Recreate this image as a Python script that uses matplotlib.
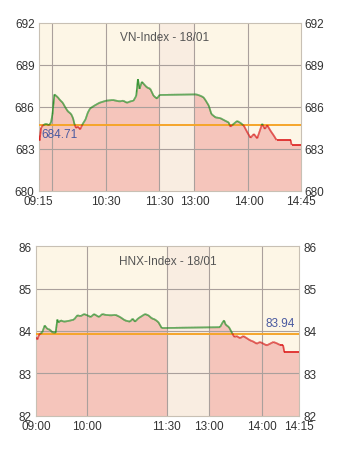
import numpy as np
import matplotlib
matplotlib.use("Agg")
import matplotlib.pyplot as plt
from matplotlib.collections import LineCollection

plt.rcParams['font.family'] = ['Liberation Sans', 'DejaVu Sans']

# ---------------- data ----------------
# VN-Index: x = chart minutes (lunch break compressed), value
VN_T = [0, 1, 2.6, 4.9, 8.3, 11.7, 13.9, 15.6, 17.7, 21.5, 24, 27.2, 29.8, 32.8, 36.6,
        38.8, 40.3, 42.2, 44.5, 46.8, 49.8, 52.8, 55.5, 58.1, 63, 68.6, 76.2, 83.8, 91.3,
        95.5, 99.7, 103.4, 107.1, 110.2, 112.1, 113.9, 116.6, 119.3, 122.3, 126, 129.8,
        133.6, 136.6, 178.1, 182.7, 186, 188.3, 192.1, 195.1, 199.7, 205.3, 211.2, 214.5,
        216.6, 220.4, 224.2, 228, 231.8, 235.6, 239.3, 243.1, 246.9, 249.8, 252.5, 255.5,
        258.2, 261.9, 265.7, 268.7, 284.6, 285.7, 296]
VN_V = [683.95, 683.6, 684.5, 684.7, 684.8, 684.7, 684.9, 685.5, 686.9, 686.7, 686.5,
        686.3, 686.0, 685.7, 685.5, 685.2, 684.8, 684.5, 684.6, 684.4, 684.8, 685.1, 685.6,
        685.9, 686.1, 686.3, 686.45, 686.5, 686.4, 686.45, 686.3, 686.4, 686.45, 686.8,
        688.0, 687.3, 687.8, 687.6, 687.4, 687.3, 686.8, 686.6, 686.86, 686.9, 686.8,
        686.7, 686.5, 686.1, 685.5, 685.26, 685.2, 685.0, 684.9, 684.6, 684.8, 685.0,
        684.86, 684.66, 684.2, 683.8, 684.07, 683.76, 684.3, 684.8, 684.43, 684.7, 684.3,
        683.95, 683.64, 683.64, 683.3, 683.3]
VN_REF = 684.71
VN_TITLE = "VN-Index - 18/01"
VN_YTICKS = [680, 683, 686, 689, 692]
VN_XTICK_POS = [0, 76, 136, 176, 237, 296]
VN_XTICK_LABELS = ["09:15", "10:30", "11:30", "13:00", "14:00", "14:45"]
VN_VGRID = [15, 76, 136, 176, 237]
VN_LUNCH = (136, 176)

HNX_T = [0, 1.7, 3.4, 7.2, 10, 13, 16.1, 18.7, 22.6, 24.5, 25.9, 28.4, 32.2, 37.9, 43.7,
         47.5, 51.4, 55.2, 59, 62.9, 66.7, 72.4, 76.2, 80.1, 85.9, 91.6, 96.6, 102.3, 108,
         111.1, 113.8, 117.6, 121.5, 125.3, 129.1, 133, 136.8, 140.6, 144.5, 211.5, 214.1,
         216.1, 218, 221.8, 224.9, 227.9, 230.7, 234.5, 238.3, 242.2, 246, 249.8, 253.7,
         257.5, 261.3, 265.2, 269, 272.8, 276.7, 280.5, 283.9, 285.4, 302.6]
HNX_V = [83.85, 83.8, 83.91, 83.97, 84.13, 84.05, 84.03, 83.97, 83.96, 84.27, 84.2, 84.25,
         84.22, 84.24, 84.27, 84.37, 84.35, 84.4, 84.37, 84.33, 84.4, 84.33, 84.4, 84.38,
         84.37, 84.38, 84.33, 84.25, 84.22, 84.29, 84.22, 84.3, 84.35, 84.4, 84.37, 84.3,
         84.27, 84.21, 84.07, 84.09, 84.19, 84.25, 84.15, 84.09, 83.97, 83.86, 83.88,
         83.83, 83.88, 83.83, 83.78, 83.75, 83.7, 83.74, 83.7, 83.66, 83.7, 83.74, 83.71,
         83.67, 83.67, 83.5, 83.5]
HNX_REF = 83.94
HNX_TITLE = "HNX-Index - 18/01"
HNX_YTICKS = [82, 83, 84, 85, 86]
HNX_XTICK_POS = [0, 59, 150.2, 198.5, 259.8, 302.6]
HNX_XTICK_LABELS = ["09:00", "10:00", "11:30", "13:00", "14:00", "14:15"]
HNX_VGRID = [59, 150.2, 198.5, 259.8]
HNX_LUNCH = (150.2, 198.5)

# ---------------- style ----------------
BG = '#fdf6e6'
LUNCH = '#f9ede1'
FILL = '#f5c5bb'
GRID = '#aaa09c'
ORANGE = '#f5a52a'
GREEN = '#238c23'
RED = '#dc1a1a'
LABEL_BLUE = '#4a5aa0'
TEXT = '#333333'


def draw(ax, t, v, ref, title, yticks, xpos, xlabels, vgrid, lunch,
         ref_label_left):
    t = np.asarray(t, float)
    v = np.asarray(v, float)
    ymin, ymax = yticks[0], yticks[-1]
    ax.set_facecolor(BG)
    ax.set_xlim(t[0], t[-1])
    ax.set_ylim(ymin, ymax)

    ax.fill_between(t, ymin, v, color=FILL, lw=0, zorder=1)
    ax.axvspan(lunch[0], lunch[1], color=LUNCH, lw=0, zorder=1.5)

    for y in yticks[1:-1]:
        ax.axhline(y, color=GRID, lw=0.8, zorder=2)
    for x in vgrid:
        ax.axvline(x, color=GRID, lw=0.8, zorder=2)

    ax.axhline(ref, color=ORANGE, lw=1.4, zorder=3)

    # densify to colour above/below reference
    tf = np.linspace(t[0], t[-1], 3000)
    vf = np.interp(tf, t, v)
    pts = np.column_stack([tf, vf]).reshape(-1, 1, 2)
    segs = np.concatenate([pts[:-1], pts[1:]], axis=1)
    mid = (vf[:-1] + vf[1:]) / 2
    cols = [GREEN if m >= ref else RED for m in mid]
    lc = LineCollection(segs, colors=cols, linewidths=1.2, zorder=4)
    ax.add_collection(lc)

    ax.text(0.48 if ref_label_left else 0.5, 0.95, title, transform=ax.transAxes,
            ha='center', va='top', fontsize=8.5, color='#555555', zorder=6)

    if ref_label_left:
        ax.annotate(f"{ref:.2f}", xy=(t[0], ref), xytext=(2, -2),
                    textcoords='offset points', ha='left', va='top',
                    fontsize=8.5, color=LABEL_BLUE, zorder=6)
    else:
        ax.annotate(f"{ref:.2f}", xy=(t[-1], ref), xytext=(-3, 3),
                    textcoords='offset points', ha='right', va='bottom',
                    fontsize=8.5, color=LABEL_BLUE, zorder=6)

    ax.set_yticks(yticks)
    ax.set_yticklabels([str(y) for y in yticks])
    ax.set_xticks(xpos)
    ax.set_xticklabels(xlabels)
    ax.tick_params(axis='both', length=0, labelsize=8.5, colors=TEXT)
    ax.tick_params(axis='y', left=False, right=False, labelleft=True,
                   labelright=True, pad=3)
    ax.tick_params(axis='x', pad=3)
    for s in ax.spines.values():
        s.set_color('#c8c0b4')
        s.set_linewidth(0.8)


fig = plt.figure(figsize=(3.56, 4.56), dpi=100)
fig.patch.set_facecolor('white')

ax1 = fig.add_axes([38.7 / 356, 1 - 192 / 456, 262 / 356, 168 / 456])
draw(ax1, VN_T, VN_V, VN_REF, VN_TITLE, VN_YTICKS, VN_XTICK_POS,
     VN_XTICK_LABELS, VN_VGRID, VN_LUNCH, True)

ax2 = fig.add_axes([36 / 356, 1 - 416.7 / 456, 263.3 / 356, 169.4 / 456])
draw(ax2, HNX_T, HNX_V, HNX_REF, HNX_TITLE, HNX_YTICKS, HNX_XTICK_POS,
     HNX_XTICK_LABELS, HNX_VGRID, HNX_LUNCH, False)

fig.savefig('out.png', dpi=100)
